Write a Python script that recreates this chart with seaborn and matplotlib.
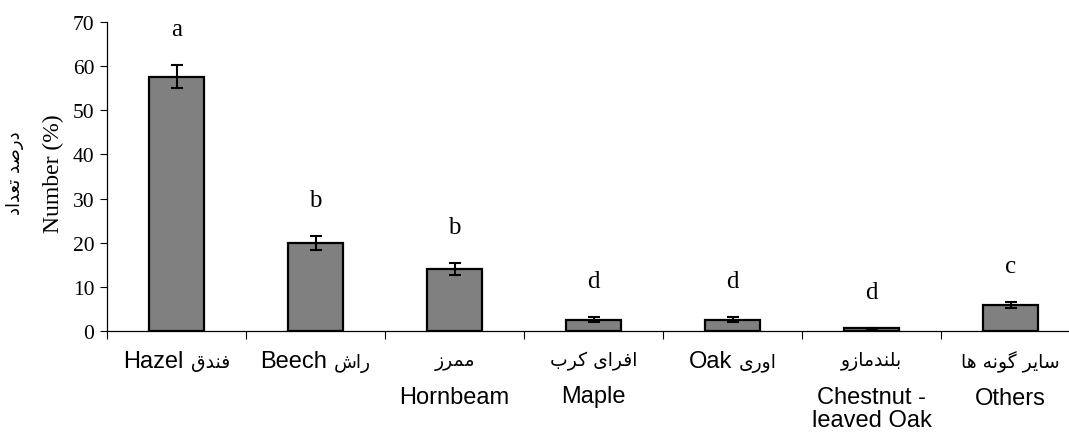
import numpy as np
import pandas as pd
import matplotlib
matplotlib.use("Agg")
import matplotlib.pyplot as plt
import seaborn as sns
from matplotlib.offsetbox import TextArea, HPacker, VPacker, AnnotationBbox

# ---------------- data ----------------
species_en = ["Hazel", "Beech", "Hornbeam", "Maple", "Oak", "Chestnut -\nleaved Oak", "Others"]
species_fa = ["فندق", "راش", "ممرز", "افرای کرب", "اوری", "بلندمازو", "سایر گونه ها"]
number_pct = [57.6, 19.9, 14.0, 2.6, 2.6, 0.6, 5.8]
std_err = [2.6, 1.6, 1.3, 0.5, 0.5, 0.1, 0.7]
groups = ["a", "b", "b", "d", "d", "d", "c"]
y_ticks = [0, 10, 20, 30, 40, 50, 60, 70]
ylabel_en = "Number (%)"
ylabel_fa = "درصد تعداد"

# label layout: Latin and Persian on one line, or Persian above Latin
inline = [True, True, False, False, True, False, False]

# ---------- simple Persian shaping (presentation forms, visual order) ----------
FORMS = {
    "ا": (0xFE8D, 0xFE8E, None, None),
    "ب": (0xFE8F, 0xFE90, 0xFE91, 0xFE92),
    "ت": (0xFE95, 0xFE96, 0xFE97, 0xFE98),
    "د": (0xFEA9, 0xFEAA, None, None),
    "ر": (0xFEAD, 0xFEAE, None, None),
    "ز": (0xFEAF, 0xFEB0, None, None),
    "س": (0xFEB1, 0xFEB2, 0xFEB3, 0xFEB4),
    "ش": (0xFEB5, 0xFEB6, 0xFEB7, 0xFEB8),
    "ص": (0xFEB9, 0xFEBA, 0xFEBB, 0xFEBC),
    "ع": (0xFEC9, 0xFECA, 0xFECB, 0xFECC),
    "ف": (0xFED1, 0xFED2, 0xFED3, 0xFED4),
    "ق": (0xFED5, 0xFED6, 0xFED7, 0xFED8),
    "ک": (0xFB8E, 0xFB8F, 0xFB90, 0xFB91),
    "گ": (0xFB92, 0xFB93, 0xFB94, 0xFB95),
    "ل": (0xFEDD, 0xFEDE, 0xFEDF, 0xFEE0),
    "م": (0xFEE1, 0xFEE2, 0xFEE3, 0xFEE4),
    "ن": (0xFEE5, 0xFEE6, 0xFEE7, 0xFEE8),
    "ه": (0xFEE9, 0xFEEA, 0xFEEB, 0xFEEC),
    "و": (0xFEED, 0xFEEE, None, None),
    "ی": (0xFBFC, 0xFBFD, 0xFBFE, 0xFBFF),
}


def shape_fa(text):
    def dual(c):
        return c in FORMS and FORMS[c][2] is not None
    out = []
    for i, c in enumerate(text):
        if c not in FORMS:
            out.append(c)
            continue
        prev = text[i - 1] if i > 0 else ""
        nxt = text[i + 1] if i + 1 < len(text) else ""
        jp = dual(prev)
        jn = dual(c) and nxt in FORMS
        iso, fin, ini, med = FORMS[c]
        if jp and jn:
            code = med
        elif jp:
            code = fin
        elif jn:
            code = ini
        else:
            code = iso
        out.append(chr(code))
    return "".join(reversed(out))


# ---------------- plot ----------------
sns.set_style("ticks")
plt.rcParams["font.family"] = ["Liberation Serif", "DejaVu Sans"]
plt.rcParams.update({"text.color": "black", "axes.labelcolor": "black",
                     "xtick.color": "black", "ytick.color": "black",
                     "axes.edgecolor": "black"})

W, H = 1069, 435
fig = plt.figure(figsize=(W / 100, H / 100), dpi=100)
ax = fig.add_axes([107 / W, 103 / H, 973 / W, 309 / H])

df = pd.DataFrame({"species": species_en, "number": number_pct})
sns.barplot(data=df, x="species", y="number", color="#808080", saturation=1,
            width=0.4, edgecolor="black", linewidth=1.6, errorbar=None, ax=ax)
xpos = np.arange(len(species_en))
ax.errorbar(xpos, number_pct, yerr=std_err, fmt="none", ecolor="black",
            elinewidth=1.5, capsize=4.5, capthick=1.5, zorder=5)

ax.set_xlim(-0.5, len(species_en) - 0.5)
ax.set_ylim(0, 70)
ax.set_yticks(y_ticks)
ax.set_xticks([])
ax.set_xticks(np.arange(-0.5, len(species_en), 1), minor=True)
ax.tick_params(axis="x", which="minor", length=6, width=0.8, direction="out")
ax.tick_params(axis="y", length=5, width=0.8, direction="out", labelsize=15.5, pad=4)
for lbl in ax.get_yticklabels():
    lbl.set_fontfamily("Liberation Serif")
ax.set_xlabel("")
ax.set_ylabel(ylabel_en, fontsize=17, fontfamily="Liberation Serif")
ax.yaxis.set_label_coords(-0.044, 0.511)
for s in ["top", "right"]:
    ax.spines[s].set_visible(False)
for s in ["left", "bottom"]:
    ax.spines[s].set_linewidth(0.9)
    ax.spines[s].set_color("black")

# Persian y label
fig.text(15 / W, 1 - 173 / H, shape_fa(ylabel_fa), rotation=90, fontsize=13,
         fontfamily="DejaVu Sans", ha="center", va="center", color="black")

# significance letters
for i, (v, e, g) in enumerate(zip(number_pct, std_err, groups)):
    ax.annotate(g, xy=(i, v + e), xytext=(0, 26), textcoords="offset points",
                ha="center", va="center", fontsize=18, fontfamily="Liberation Serif",
                color="black")

# category labels
lat_props = dict(fontsize=17, fontfamily="Liberation Sans", multialignment="center",
                 linespacing=1.1, color="black")
fa_props = dict(fontsize=13.5, fontfamily="DejaVu Sans", color="black")
for i, (en, fa, one) in enumerate(zip(species_en, species_fa, inline)):
    t_en = TextArea(en, textprops=lat_props)
    t_fa = TextArea(shape_fa(fa), textprops=fa_props)
    if one:
        box = HPacker(children=[t_en, t_fa], align="baseline", pad=0, sep=5)
    else:
        box = VPacker(children=[t_fa, t_en], align="center", pad=0, sep=11)
    ab = AnnotationBbox(box, (i, 0), xybox=(0, -14), xycoords="data",
                        boxcoords="offset points", box_alignment=(0.5, 1),
                        frameon=False, annotation_clip=False)
    ax.add_artist(ab)

fig.savefig("out.png", dpi=100)
